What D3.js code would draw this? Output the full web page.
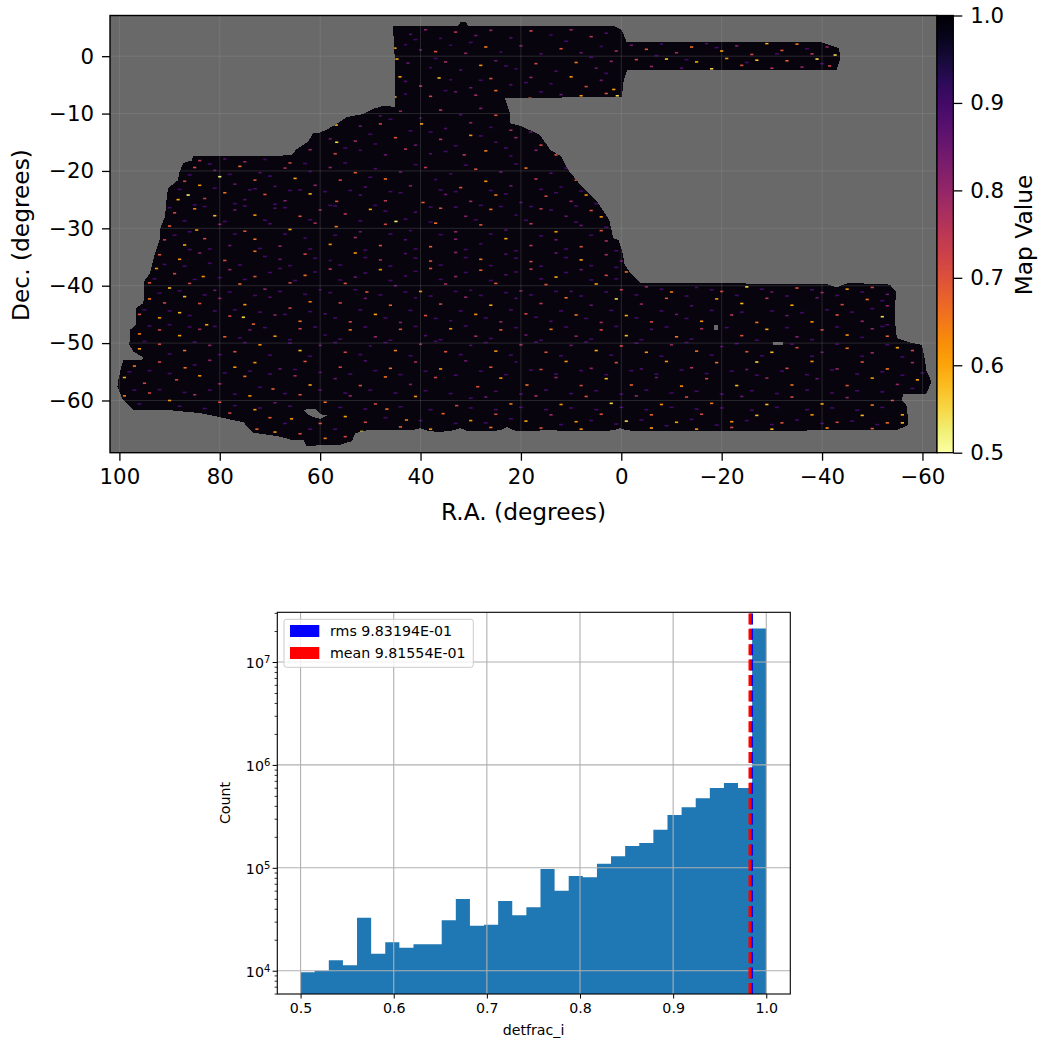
<!DOCTYPE html>
<html><head><meta charset="utf-8">
<script src="https://cdn.jsdelivr.net/npm/d3@7"></script>
<style>html,body{margin:0;background:#fff}svg{display:block;font-family:"DejaVu Sans",sans-serif}</style>
</head><body><svg id="c" width="1040" height="1041"></svg>
<script>
// ---------- map data ----------
const raTicks=[100,80,60,40,20,0,-20,-40,-60];
const decTicks=[0,-10,-20,-30,-40,-50,-60];
const cbarTicks=[1.0,0.9,0.8,0.7,0.6,0.5];
const footprint=[[45.5,5.3],[32.5,5.3],[32,6],[31,6],[30.5,5.3],[1.6,5.3],[-0.1,4.6],[-1.1,2.4],[-39.9,2.4],[-43.4,1.4],[-43.6,-0.6],[-42.9,-2.4],[-1.2,-2.4],[-0.5,-4.1],[-0.1,-7.1],[23.2,-7.3],[22.2,-9.9],[22.2,-11.7],[20.2,-12.1],[16.2,-13.7],[14.2,-16.3],[11.9,-17.5],[10.6,-19.8],[7.9,-22.7],[4.6,-25.6],[2.4,-28.5],[1.6,-31.7],[0.6,-32],[-0.1,-33.7],[-0.7,-36.4],[-2.1,-38.1],[-3.7,-39.5],[-40.9,-39.7],[-42.9,-40.3],[-45.2,-39.5],[-53.5,-39.8],[-54.7,-41],[-54.5,-45.9],[-54.9,-49.1],[-57.5,-49.9],[-59.9,-50.3],[-60.5,-52.9],[-60.8,-54.9],[-61.8,-56.7],[-60.8,-58.8],[-56.2,-58.8],[-55.9,-59.9],[-56.9,-61],[-57.2,-64.2],[-54.9,-65.2],[-38.9,-65.2],[-27,-65.4],[-19.7,-65.3],[-12.4,-65.4],[-3.1,-65.3],[-1,-65.2],[0.3,-64.8],[1.5,-65.2],[5.6,-65.4],[14.2,-65.2],[20.2,-65.3],[21.5,-65.2],[22.8,-64.6],[24,-65.2],[28.8,-65.4],[30.8,-65.3],[32.1,-64.8],[33.5,-65.2],[36.1,-65.5],[38.6,-65.3],[40.1,-64.8],[41.5,-65.2],[50.7,-65.2],[53,-65.7],[53.7,-67.1],[56,-67.7],[62.7,-67.9],[63.4,-66.8],[66,-66.8],[68,-66.3],[73.3,-65.6],[75.3,-63.8],[80.6,-62.8],[83.9,-62.2],[89.9,-61.7],[97.2,-61.6],[99.3,-59.9],[100.4,-57.6],[100.2,-56.4],[99.7,-54.4],[99.2,-53],[95.5,-53],[95.2,-52.5],[97.2,-51.5],[98,-50.3],[97.9,-47.7],[96.7,-46.8],[96.7,-43.9],[95.2,-43],[95.1,-39.3],[93.9,-37.8],[92.9,-34.3],[92,-32],[92,-30.3],[90.9,-27.9],[90.6,-25],[90.3,-23],[88.3,-21.6],[88.1,-20.4],[87.3,-18.6],[85.6,-18.2],[85.3,-17.4],[65.7,-17.3],[64.7,-16.2],[62.4,-14.9],[61.4,-13.4],[60,-13.3],[58.7,-12.8],[56,-11.4],[54.7,-10.6],[51.5,-10.1],[49.5,-9.2],[47.5,-8.7],[45.1,-8.8],[45.1,-1]];
const holes=[
 [[63.4,-61.6],[61,-61.5],[59.5,-62.6],[58.5,-62.6],[60,-63.2],[62,-62.7]],
 [[-30.2,-49.8],[-32.2,-49.8],[-32.2,-50.3],[-30.2,-50.3]],
 [[-18.4,-46.9],[-19.2,-46.9],[-19.2,-47.7],[-18.4,-47.7]]];
// hand-estimated sample of the brighter speckled pixels: [R.A., Dec., value]
const speckles=[
[45.1,1.4,.6],[44.7,-.5,.6],[44.1,-3.6,.6],[45.1,-7.1,.6],[36.3,-3.8,.58],[18.2,-7.3,.68],[42,3.8,.88],[39,4.6,.82],[36,3.1,.9],[33,4.2,.75],[29,3.6,.85],[26,4.5,.8],[22,3.2,.88],[18,4.4,.72],[14,3.7,.9],[10,4.6,.8],[6,3.4,.75],[3,4,.88],
[43,2,.9],[40,1.1,.85],[37,.8,.7],[34,1.9,.9],[31,.5,.8],[27,1.6,.65],[24,.7,.9],[20,1.8,.82],[16,.4,.88],[12,1.3,.7],[8,.6,.85],[4,1.7,.9],[1,.9,.78],
[42.5,-1.2,.85],[38,-2,.9],[35,-1,.78],[32,-2.4,.88],[28,-1.6,.62],[25,-.8,.85],[21,-2.2,.9],[17,-1.3,.72],[13,-2.6,.88],[9,-1.1,.65],[5,-2.1,.85],[2,-.9,.8],
[43,-4.4,.88],[40,-5.2,.75],[34,-4.1,.9],[30,-5.5,.85],[26,-3.9,.7],[22,-5,.88],[18,-3.7,.8],[14,-4.8,.9],[10,-3.6,.62],[7,-5.3,.72],[4,-4.2,.85],[1.5,-5.8,.6],
[43,-6.6,.9],[38,-7,.72],[33,-6.2,.85],[29,-6.8,.78],[25,-6,.66],[12,-6.7,.85],[8,-6.9,.62],[3,-6.5,.7],[.8,-6.9,.55],
[-2,1.9,.85],[-5,1.2,.7],[-8,2.1,.9],[-11,.6,.78],[-14,1.6,.66],[-17,2.2,.88],[-20,.9,.6],[-23,1.8,.82],[-26,.3,.72],[-29,2.2,.58],[-32,1,.7],[-35,2.1,.65],[-38,.4,.75],[-41,1.6,.8],[-42.6,.2,.55],
[-3,-.6,.72],[-6,-1.8,.8],[-9,-.5,.58],[-12,-2.1,.88],[-15,-1,.6],[-18,-2.2,.55],[-21,-.4,.62],[-24,-1.6,.7],[-27,-.7,.58],[-30,-2.1,.76],[-33,-.8,.68],[-36,-1.9,.8],[-39,-.5,.55],[-41.5,-1.7,.72],
[48,-10.4,.88],[44,-9.6,.8],[40,-10.8,.9],[36,-9.4,.75],[32,-10.2,.88],[28,-9.1,.82],[25,-10.3,.7],
[56.8,-12,.58],[52,-12.2,.85],[48,-11.8,.72],[39.8,-11.8,.6],[35,-12.6,.88],[30,-11.6,.8],[26,-12.4,.9],[22,-12.9,.78],[18,-13.2,.85],
[56.7,-15,.55],[58,-14.4,.85],[53,-14.8,.78],[49,-15.3,.9],[45,-14.2,.7],[41,-15.5,.85],[36,-14.5,.75],[30,-13.8,.62],[25,-15,.88],[21,-14.2,.8],[16,-15.5,.72],
[62,-16.3,.8],[57,-17,.72],[52,-16.4,.9],[47,-17.2,.85],[43,-16.2,.76],[38,-17,.88],[31.3,-17.2,.75],[27,-16.5,.65],[22,-17.4,.9],[17,-16.4,.82],[13,-17.2,.7],
[84,-18.2,.75],[79,-17.9,.88],[75,-18.4,.8],[71,-18,.9],[66,-18.6,.72],
[85,-19.4,.7],[81,-19.9,.85],[76,-19.2,.66],[72,-20.3,.88],[67,-19.5,.78],[62,-20.1,.9],[58,-19.4,.8],[53,-20.3,.68],[49,-19.6,.88],[44,-20.2,.85],[39,-19.4,.75],[34,-20.5,.9],[29,-19.7,.7],[24,-20.2,.85],[19,-19.5,.66],[14,-20.4,.88],
[87,-21.8,.72],[84,-22.5,.62],[80,-21,.52],[77,-22.3,.85],[73,-21.6,.7],[69,-22.7,.88],[65,-21.3,.6],[61,-22.5,.8],[56,-21.6,.72],[51,-22.8,.88],[47,-21.4,.66],[42,-22.6,.82],[37,-21.5,.9],[32,-22.9,.7],[27,-21.8,.62],[22,-22.6,.85],[17,-21.4,.75],[12,-22.8,.9],[9,-21.6,.68],
[88.3,-25,.6],[86.3,-24.2,.52],[83,-24.8,.75],[79,-23.8,.66],[75,-25,.88],[71,-24.1,.7],[67,-25.2,.82],[62,-24,.58],[56.7,-25.3,.7],[52,-24.2,.88],[47,-25.2,.75],[39.5,-25.5,.68],[35,-24.1,.85],[30,-25.3,.78],[25,-24.2,.65],[20,-25.5,.88],[15,-24.4,.72],[10,-25.3,.8],[7,-24.2,.62],
[89,-27.3,.72],[85,-26.6,.65],[81,-27.8,.58],[77,-26.8,.85],[73,-27.7,.62],[69,-26.5,.88],[64,-27.9,.7],[60,-26.8,.8],[55,-27.5,.75],[50,-26.7,.6],[44.9,-28.8,.52],[41,-27.2,.88],[36,-26.5,.7],[31,-27.9,.82],[26,-26.7,.66],[21,-27.7,.9],[16,-26.6,.75],[11,-27.9,.85],[6,-26.9,.7],[4,-28,.62],
[90,-29.6,.68],[84.6,-30.3,.62],[80,-29.3,.82],[75,-30.5,.7],[70,-29.2,.88],[66,-30.2,.6],[61,-29.1,.78],[56.8,-29.7,.65],[52,-30.6,.85],[47,-29.3,.72],[42,-30.4,.9],[37,-29.1,.66],[33,-30.6,.8],[28,-29.4,.7],[23,-30.3,.88],[18,-29.2,.75],[13,-30.6,.62],[8,-29.5,.85],[4,-30.4,.7],
[91,-32,.75],[87,-32.9,.6],[83,-31.8,.72],[78,-33,.85],[73,-31.9,.66],[68,-33.1,.8],[63,-31.7,.9],[58,-32.8,.62],[53,-31.6,.78],[48,-33,.7],[43,-32,.88],[38,-33.2,.68],[33,-31.9,.82],[28,-32.7,.9],[23,-31.8,.6],[18,-33,.75],[13,-32,.85],[8,-33.2,.7],[3,-32.2,.78],
[92,-34.6,.7],[88,-35.4,.62],[84,-34.3,.82],[79,-35.6,.7],[73,-34,.66],[68,-35.4,.85],[63,-34.5,.72],[58,-35.6,.9],[53,-34.3,.62],[48,-35.5,.78],[43,-34.4,.88],[38,-35.7,.7],[33,-34.2,.8],[28,-35.4,.65],[23,-34.5,.88],[18,-35.8,.72],[13,-34.3,.85],[8,-35.5,.6],[3,-34.6,.78],[0,-35.7,.85],
[92.6,-37,.62],[89,-37.9,.72],[83.3,-38.4,.62],[78,-37.2,.8],[73,-38.4,.7],[68,-37,.88],[63,-38.2,.66],[58,-37.1,.75],[53,-38.5,.85],[48,-37.2,.62],[43,-38.3,.9],[38,-37,.7],[33,-38.4,.8],[28,-37.3,.68],[23,-38.1,.88],[18,-37.1,.75],[13,-38.5,.6],[8,-37.2,.85],[3,-38.2,.72],[-1,-37.6,.66],
[94,-39.5,.7],[90,-40.4,.58],[86,-39.6,.72],[81,-40.8,.85],[76,-39.7,.66],[71,-40.6,.8],[66,-39.5,.72],[60,-40.7,.9],[55,-39.6,.7],[50.7,-41.1,.7],[45,-40,.85],[40,-41,.62],[35,-39.7,.78],[30,-40.8,.9],[25,-39.6,.68],[20,-40.9,.82],[15,-39.8,.7],[10,-41,.88],[5,-39.7,.6],[0,-40.7,.75],[-5,-40.2,.8],[-10,-41.1,.65],[-15,-40.3,.9],[-20,-41,.72],[-25,-40.2,.55],[-30,-41.1,.85],[-35,-40.4,.7],[-40,-41.2,.8],[-45,-40.6,.62],[-50,-40.3,.72],[-53,-41.5,.85],
[94,-42.3,.65],[91,-43,.72],[87,-41.9,.58],[84,-43.1,.7],[80,-42.2,.82],[75,-43.3,.62],[70,-42,.88],[66,-43.9,.72],[62,-42.8,.65],[56,-43,.72],[51,-42.2,.85],[46,-43.4,.68],[41,-42.1,.9],[36,-43.2,.72],[31,-42,.8],[26,-43.4,.6],[21,-42.2,.88],[16,-43.1,.75],[11,-42.1,.66],[6,-43.4,.85],[1,-42.3,.55],[-4,-43.2,.8],[-9,-42.2,.7],[-14,-43.5,.88],[-19,-42.3,.62],[-24,-43.1,.58],[-29,-42.2,.75],[-34,-43.4,.6],[-39,-42.1,.85],[-44,-43.3,.72],[-49,-42.4,.66],[-53,-43.5,.8],
[96,-45,.7],[92,-45.6,.62],[88,-44.7,.58],[82.6,-46.8,.6],[78,-45.3,.72],[75.3,-45.5,.55],[73.3,-46.7,.68],[69,-45.1,.8],[64,-46.2,.66],[59,-44.9,.88],[54,-46.3,.72],[49,-45,.6],[44,-46.4,.82],[39,-45.2,.7],[34,-46.1,.9],[29,-45,.62],[24,-46.3,.8],[19,-44.9,.72],[14,-46.2,.88],[9,-45.1,.66],[4,-46.4,.78],[-1,-45.2,.6],[-6,-46.3,.72],[-11,-45,.85],[-16,-46.2,.62],[-22,-45.1,.75],[-27,-46.4,.66],[-33,-45.2,.85],[-38,-46.3,.62],[-43,-45.1,.7],[-48,-46.2,.8],[-52,-45.4,.55],
[96,-48.4,.65],[92,-47.7,.72],[88,-48.7,.6],[84,-47.6,.78],[79,-48.9,.68],[74,-47.7,.85],[69,-48.8,.62],[64,-47.5,.72],[59,-48.6,.9],[54,-47.7,.66],[49,-48.9,.8],[44,-47.6,.7],[39,-48.7,.88],[34,-47.5,.62],[29,-48.8,.78],[24,-47.7,.7],[19,-48.6,.85],[14,-47.6,.65],[9,-48.8,.8],[4,-47.7,.72],[-1,-48.7,.58],[-6,-47.6,.88],[-11,-48.9,.65],[-16,-47.5,.78],[-24,-48.7,.7],[-29,-47.6,.6],[-35,-48.9,.82],[-40,-47.7,.72],[-45,-48.6,.62],[-50,-47.5,.8],[-53,-48.8,.68],
[96,-51,.6],[92,-50.2,.72],[87,-51.3,.66],[82,-50.4,.8],[77,-51.5,.7],[72,-50.3,.62],[64,-51.3,.58],[60,-50.4,.85],[55,-51.6,.72],[50,-50.5,.9],[45,-51.3,.65],[40,-50.2,.8],[35,-51.5,.7],[30,-50.4,.88],[25,-51.4,.62],[20,-50.3,.78],[15,-51.6,.7],[10,-50.4,.85],[5,-51.3,.6],[0,-50.5,.72],[-5,-51.6,.62],[-10,-50.3,.8],[-15,-51.4,.66],[-20,-50.6,.88],[-25,-51.5,.7],[-30,-51.6,.58],[-35,-50.8,.72],[-40,-51.6,.85],[-45,-50.9,.66],[-50,-51.7,.78],[-55,-50.8,.6],[-58,-51.3,.72],
[97,-54,.65],[92,-53.3,.72],[86.9,-54.3,.66],[82,-53,.8],[77,-54.2,.62],[73,-53.4,.62],[68,-54.5,.85],[63,-53.2,.7],[56,-54.2,.72],[51,-53.1,.88],[46,-54.4,.66],[41,-53.3,.78],[36,-54.5,.62],[31,-53.1,.85],[26,-54.2,.7],[21,-53.3,.9],[16,-54.6,.72],[11,-53.2,.62],[6,-54.4,.8],[1,-53.4,.7],[-4,-54.5,.88],[-9,-53.2,.62],[-14,-54.3,.76],[-19,-53.4,.66],[-25,-54.6,.85],[-27,-53.3,.55],[-33,-54.4,.72],[-38,-53.2,.62],[-43,-54.5,.8],[-48,-53.3,.7],[-53,-54.5,.65],[-58,-53.4,.78],
[99,-56,.6],[95,-57,.72],[88.6,-56.4,.72],[84,-55.7,.62],[80,-57.1,.8],[75,-55.8,.66],[69.4,-58,.68],[65,-55.7,.78],[62,-57.3,.6],[57,-56.2,.85],[52,-57.4,.7],[47,-55.9,.66],[42,-57.2,.82],[37,-56,.72],[28.6,-57.6,.7],[24,-56.1,.62],[18.8,-57.3,.66],[13,-56,.8],[8,-57.4,.72],[3,-56.2,.58],[-2,-57.3,.68],[-7,-56,.85],[-12,-57.5,.62],[-17,-56.2,.72],[-23,-57.4,.58],[-29,-56.1,.8],[-34,-57.3,.66],[-39,-56.2,.85],[-45,-57.4,.7],[-50,-56.1,.62],[-55,-57.2,.8],[-59,-56.4,.6],
[99,-59.2,.65],[94,-58.7,.72],[90,-60,.62],[85,-59,.78],[80,-60.3,.7],[74,-59.2,.62],[69,-60.4,.85],[64,-59,.7],[59,-60.3,.66],[54,-59.2,.8],[49,-60.6,.72],[46.7,-61.5,.66],[41,-59.3,.62],[32.8,-60.9,.72],[27,-59.4,.85],[22,-60.6,.65],[17,-59.2,.78],[12,-60.7,.62],[7,-59.3,.7],[2,-60.5,.55],[-3,-59.2,.8],[-8,-60.7,.62],[-13,-59.4,.72],[-18,-60.5,.65],[-24,-59.3,.85],[-29,-60.7,.58],[-34,-59.4,.72],[-40,-60.6,.6],[-45,-59.5,.8],[-50,-60.8,.65],[-54,-60,.72],
[78,-62.2,.72],[73,-61.6,.62],[70,-63,.68],[65.7,-63.2,.62],[60,-64,.7],[55,-62.8,.6],[51,-63.8,.72],[42.8,-63.4,.65],[35.5,-62.3,.68],[30,-63.5,.62],[25,-62.4,.72],[19,-63.6,.6],[14,-62.5,.78],[9,-63.7,.62],[4,-62.4,.7],[-1,-63.6,.55],[-6,-62.5,.68],[-11,-63.8,.6],[-16,-62.4,.72],[-22,-63.7,.62],[-27,-62.6,.58],[-32,-63.9,.7],[-38,-62.5,.62],[-43,-63.8,.72],[-48,-62.6,.58],[-53,-63.9,.66],[-56,-62.5,.6],
[72.6,-65,.68],[69,-65.5,.62],[64,-65.8,.7],[59,-66.6,.65],[55,-66.3,.72],[51.7,-65.4,.55],[44,-64.6,.68],[38,-65,.62],[26,-64.7,.66],[16,-64.8,.7],[8,-65,.62],[-6,-64.8,.6],[-15,-65,.62],[-22,-64.7,.72],[-30,-65,.58],[-41,-64.8,.62],[-50,-64.9,.68],[-56,-63.9,.58]
];
// hand-estimated sample of the dim purple flecks, value about 0.9: [R.A., Dec.]
const dimFlecks=[
[41,2.9],[37,-.4],[30,2.4],[23,-1.7],[19,-4.6],[11,2.6],[6,-.2],[3,-3],[35,-6],[28,-4.2],[16,-6.2],[-7,.1],[-13,-.6],[-19,1.5],[-25,-1.1],[-31,.4],[-37,1.3],[-40,-1.3],
[46,-11],[38,-13.2],[33,-15.6],[28,-13.9],[23,-16],[19,-11.9],[42,-13],[50,-13.6],[55,-16],[35,-16.6],
[86,-20.7],[82,-18.8],[78,-20.6],[74,-23.3],[70,-20.9],[66,-23.4],[63,-18.7],[59,-23.6],[55,-18.6],[50,-21.1],[46,-23.6],[41,-18.9],[36,-23.3],[31,-19],[26,-23.4],[21,-18.8],[16,-23.2],[11,-19.5],[8,-23.5],
[88,-23.2],[85,-25.9],[81,-23],[77,-25.7],[73,-23.1],[69,-25.8],[64,-23.3],[58,-26],[54,-23.4],[49,-26],[44,-23.8],[38,-26.3],[33,-23.6],[28,-26],[23,-24],[18,-26.2],[13,-23.8],[9,-26.1],[5,-25.7],
[90,-26.4],[87,-28.7],[83,-26.2],[79,-28.8],[75,-26.1],[71,-28.6],[67,-26.4],[62,-28.5],[57,-26.1],[52,-28.7],[47,-27],[43,-28.4],[38,-28.9],[33,-26.3],[29,-28.5],[24,-26.2],[19,-28.6],[14,-26.8],[9,-28.9],[3,-29.8],
[89,-31.2],[86,-30.6],[82,-33.6],[77,-31],[72,-33.5],[67,-31],[62,-33.6],[57,-31.2],[51,-33.8],[46,-31],[41,-33.6],[36,-31.1],[31,-33.7],[26,-31],[21,-33.9],[16,-31.3],[11,-33.6],[6,-31.2],[1,-33.9],
[91,-36.3],[86,-33.7],[82,-36.1],[76,-36.4],[71,-34.9],[66,-36.5],[61,-35.2],[56,-36.4],[51,-35.1],[46,-36.6],[41,-35.2],[36,-36.4],[31,-35.1],[26,-36.5],[21,-35.2],[16,-36.6],[11,-35.1],[6,-36.5],[1,-36.8],
[93,-38.8],[87,-36.6],[85,-38.9],[80,-38.6],[75,-38.9],[70,-37.7],[65,-39.1],[61,-37.6],[56,-39],[51,-37.8],[46,-39.1],[41,-37.5],[36,-38.9],[31,-37.7],[26,-39.1],[21,-37.6],[16,-38.8],[11,-37.7],[6,-39],[1,-38.8],
[92,-41.3],[88,-40.9],[83,-41.6],[78,-41.1],[73,-41.7],[68,-41],[63,-41.5],[58,-41.2],[53,-40.7],[48,-41.6],[43,-41.1],[38,-41.8],[33,-41],[28,-41.7],[23,-41.2],[18,-41.6],[13,-41],[8,-41.8],[3,-41.1],[-3,-41.6],[-8,-40.6],[-13,-41.8],[-18,-40.7],[-23,-41.7],[-28,-40.6],[-33,-41.8],[-38,-40.7],[-43,-41.7],[-48,-41.1],[-52,-42.6],
[95,-44.2],[90,-44.4],[86,-45.2],[81,-44.4],[77,-44.2],[72,-44.6],[67,-45],[62,-44.5],[57,-45.6],[52,-44.2],[47,-45.6],[42,-44.3],[37,-45.7],[32,-44.4],[27,-45.6],[22,-44.2],[17,-45.5],[12,-44.4],[7,-45.7],[2,-44.3],[-3,-45.6],[-8,-44.4],[-13,-45.7],[-18,-44.3],[-24,-44.6],[-30,-44.4],[-36,-44.7],[-41,-44.2],[-46,-44.6],[-50,-44],[-53,-46.8],
[94,-47],[90,-46.8],[86,-47.2],[81,-47.1],[76,-49.1],[71,-47.3],[66,-49.4],[61,-47.2],[56,-49.3],[51,-47.2],[46,-49.5],[41,-47.1],[36,-49.4],[31,-47],[26,-49.2],[21,-47.3],[16,-49.5],[11,-47.2],[6,-49.3],[1,-47.1],[-4,-49.4],[-9,-47.2],[-14,-49.3],[-21,-47.3],[-27,-49.5],[-33,-47.3],[-38,-49.4],[-43,-47.2],[-48,-49],[-52,-47.1],
[95,-49.7],[90,-51.9],[85,-49.8],[80,-52],[75,-49.9],[70,-52.1],[66,-50],[62,-52.3],[57,-49.9],[52,-52],[47,-49.9],[42,-52.2],[37,-49.7],[32,-52],[27,-49.9],[22,-52.1],[17,-49.8],[12,-52.2],[7,-49.8],[2,-52.1],[-3,-50],[-8,-52.3],[-13,-49.9],[-18,-52.1],[-23,-50.1],[-28,-52.2],[-34,-50.2],[-38,-52.3],[-43,-50.2],[-48,-52.3],[-53,-50.3],[-56,-52.4],
[98,-55],[94,-54.8],[90,-55.3],[85,-53.8],[79,-55.2],[74,-54.9],[70,-55.4],[65,-54.6],[60,-55.1],[54,-55.4],[49,-54.8],[44,-55.5],[39,-54.9],[33,-55.6],[28,-54.9],[23,-55.5],[18,-54.7],[13,-55.4],[8,-54.8],[3,-55.5],[-2,-54.8],[-7,-55.4],[-12,-54.7],[-17,-55.3],[-22,-54.9],[-27,-55.6],[-32,-54.9],[-37,-55.5],[-42,-54.7],[-47,-55.4],[-52,-55],[-56,-55.6],[-60,-55.2],
[97,-58.2],[92,-58.1],[87,-58.6],[82,-58.2],[77,-58.9],[72,-57.7],[67,-58.8],[60,-58.2],[55,-58.7],[50,-58.2],[45,-58.7],[39,-58.3],[34,-58.8],[30,-59.6],[25,-58.4],[20,-58.9],[15,-58.2],[10,-58.8],[5,-58.3],[0,-58.9],[-5,-58.2],[-10,-58.7],[-15,-58.4],[-20,-58.9],[-26,-58.3],[-31,-58.8],[-37,-58.2],[-42,-58.7],[-47,-58.3],[-52,-58.5],[-58,-57.9],
[96,-60.6],[88,-61],[83,-61.4],[77,-60.9],[72,-61.3],[66,-61],[56,-61.2],[51,-61.5],[44,-61.1],[38,-61.6],[30,-61.3],[25,-61.6],[20,-61.2],[15,-61.6],[10,-61.3],[5,-61.6],[0,-61.2],[-5,-61.6],[-10,-61.2],[-15,-61.5],[-20,-61.3],[-26,-61.7],[-31,-61.2],[-37,-61.6],[-42,-61.3],[-47,-61.7],[-52,-61.2],
[75,-64.6],[67,-64],[62,-65],[57,-65],[47,-63],[40,-63.5],[33,-64],[27,-63.9],[22,-63.2],[12,-64.2],[6,-63.5],[1,-64.1],[-4,-63.4],[-9,-64.4],[-14,-63.3],[-19,-64.3],[-25,-63.5],[-30,-64.2],[-35,-63.4],[-40,-64],[-46,-63.6],[-51,-64.2]
];
const dimFleckValue=0.9;
// ---------- histogram data ----------
const binEdgeStart=0.5, binEdgeEnd=1.0;
const counts=[9650,10000,12620,11280,32730,14620,18880,16730,18050,18050,30900,49770,27360,28000,47550,34530,41300,97300,59900,83200,80800,109600,129500,163000,174000,234000,326000,387000,473000,596000,667000,596000,21100000];
const histXTicks=[0.5,0.6,0.7,0.8,0.9,1.0];
const histYMajor=[1e4,1e5,1e6,1e7];
const histYMinor=[6e3,7e3,8e3,9e3,2e4,3e4,4e4,5e4,6e4,7e4,8e4,9e4,2e5,3e5,4e5,5e5,6e5,7e5,8e5,9e5,2e6,3e6,4e6,5e6,6e6,7e6,8e6,9e6,2e7,3e7];
const rmsValue=0.983194, meanValue=0.981554;
const legendItems=[["rms 9.83194E-01","#0000ff"],["mean 9.81554E-01","#ff0000"]];

const svg=d3.select("#c");
// ---------- MAP ----------
const M={l:110,r:937,t:15.5,b:452.7};
const x=d3.scaleLinear().domain([101.87,-62.9]).range([M.l,M.r]);
const y=d3.scaleLinear().domain([7.09,-69.1]).range([M.t,M.b]);
const color=d3.scaleSequential(d3.interpolateInferno).domain([1,0.5]);
const defs=svg.append("defs");
const ring=r=>"M"+r.map(d=>x(d[0])+","+y(d[1])).join("L")+"Z";
const fpPath=ring(footprint)+holes.map(ring).join("");
defs.append("clipPath").attr("id","fp").append("path").attr("d",fpPath).attr("clip-rule","evenodd");
svg.append("rect").attr("x",M.l).attr("y",M.t).attr("width",M.r-M.l).attr("height",M.b-M.t).attr("fill","#696969");
svg.append("path").attr("d",fpPath).attr("fill-rule","evenodd").attr("fill","#07040d").attr("shape-rendering","crispEdges");
const fleckLayer=svg.append("g").attr("clip-path","url(#fp)");
fleckLayer.selectAll("rect.dim").data(dimFlecks).join("rect").attr("class","dim")
 .attr("x",d=>x(d[0])-2).attr("y",d=>y(d[1])-.8).attr("width",4).attr("height",1.6).attr("fill",color(dimFleckValue));
fleckLayer.selectAll("rect.bright").data(speckles).join("rect").attr("class","bright")
 .attr("x",d=>x(d[0])-1.6).attr("y",d=>y(d[1])-.8).attr("width",3.2).attr("height",1.6).attr("fill",d=>color(d[2]));
const mg=svg.append("g").attr("stroke","#b0b0b0").attr("stroke-opacity",.2).attr("stroke-width",1);
raTicks.forEach(t=>mg.append("line").attr("x1",x(t)).attr("x2",x(t)).attr("y1",M.t).attr("y2",M.b));
decTicks.forEach(t=>mg.append("line").attr("y1",y(t)).attr("y2",y(t)).attr("x1",M.l).attr("x2",M.r));
const fmt=d=>String(d).replace("-","\u2212");
function style(g,fs,w){g.select(".domain").remove();g.selectAll(".tick line").attr("stroke","#000").attr("stroke-width",w);g.selectAll(".tick text").attr("fill","#000").attr("font-size",fs).attr("font-family","DejaVu Sans");}
const ax=svg.append("g").attr("transform",`translate(0,${M.b})`).call(d3.axisBottom(x).tickValues(raTicks).tickFormat(fmt).tickSize(8).tickPadding(8));
style(ax,21.3,1.3);
const ay=svg.append("g").attr("transform",`translate(${M.l},0)`).call(d3.axisLeft(y).tickValues(decTicks).tickFormat(fmt).tickSize(8).tickPadding(8));
style(ay,21.3,1.3);
svg.append("rect").attr("x",M.l).attr("y",M.t).attr("width",M.r-M.l).attr("height",M.b-M.t).attr("fill","none").attr("stroke","#000").attr("stroke-width",1.4);
svg.append("text").attr("x",523.5).attr("y",520).attr("text-anchor","middle").attr("font-size",23.3).text("R.A. (degrees)");
svg.append("text").attr("transform","translate(29,235) rotate(-90)").attr("text-anchor","middle").attr("font-size",23.3).text("Dec. (degrees)");
// colorbar
const C={l:937,r:953.3};
const cy=d3.scaleLinear().domain([1,0.5]).range([M.t,M.b]);
const grad=defs.append("linearGradient").attr("id","cb").attr("x1",0).attr("x2",0).attr("y1",0).attr("y2",1);
d3.range(0,1.0001,0.05).forEach(f=>grad.append("stop").attr("offset",f).attr("stop-color",d3.interpolateInferno(f)));
svg.append("rect").attr("x",C.l).attr("y",M.t).attr("width",C.r-C.l).attr("height",M.b-M.t).attr("fill","url(#cb)").attr("stroke","#000").attr("stroke-width",1.3);
const ac=svg.append("g").attr("transform",`translate(${C.r},0)`).call(d3.axisRight(cy).tickValues(cbarTicks).tickFormat(d3.format(".1f")).tickSize(9).tickPadding(8));
style(ac,21.3,1.3);
svg.append("text").attr("transform","translate(1032,235) rotate(-90)").attr("text-anchor","middle").attr("font-size",23.3).text("Map Value");
// ---------- HISTOGRAM ----------
const H={l:277.3,r:790.3,t:612.3,b:994};
const hx=d3.scaleLinear().domain([0.475,1.0258]).range([H.l,H.r]);
const hy=d3.scaleLog().domain([5940,3.04e7]).range([H.b,H.t]);
const bw=(binEdgeEnd-binEdgeStart)/counts.length;
const stepData=counts.concat(counts[counts.length-1]);
svg.append("path").datum(stepData).attr("fill","#1f77b4")
 .attr("d",d3.area().curve(d3.curveStepAfter).x((d,i)=>hx(binEdgeStart+i*bw)).y0(H.b).y1(d=>hy(d)));
const hg=svg.append("g").attr("stroke","#b0b0b0").attr("stroke-width",1.1);
histXTicks.forEach(t=>hg.append("line").attr("x1",hx(t)).attr("x2",hx(t)).attr("y1",H.t).attr("y2",H.b));
histYMajor.forEach(t=>hg.append("line").attr("y1",hy(t)).attr("y2",hy(t)).attr("x1",H.l).attr("x2",H.r));
[[rmsValue,"#0000ff"],[meanValue,"#ff0000"]].forEach(([v,c])=>svg.append("line").attr("x1",hx(v)).attr("x2",hx(v)).attr("y1",H.b).attr("y2",H.t)
 .attr("transform","translate(0.9,0)").attr("stroke",c).attr("stroke-width",3).attr("stroke-dasharray","11 4.4"));
const hax=svg.append("g").attr("transform",`translate(0,${H.b})`).call(d3.axisBottom(hx).tickValues(histXTicks).tickFormat(d3.format(".1f")).tickSize(4.5).tickPadding(4));
style(hax,14.2,1);
const hay=svg.append("g").attr("transform",`translate(${H.l},0)`).call(d3.axisLeft(hy).tickValues(histYMajor).tickFormat(()=>"").tickSize(4.7));
hay.select(".domain").remove();hay.selectAll(".tick line").attr("stroke","#000").attr("stroke-width",1);
hay.selectAll(".tick text").each(function(d){const t=d3.select(this).attr("fill","#000").attr("font-size",14.2).attr("font-family","DejaVu Sans").attr("x",-7).attr("dy","0.42em");
 t.append("tspan").text("10");t.append("tspan").attr("dy","-0.5em").attr("font-size",10).text(Math.round(Math.log10(d)));});
const haym=svg.append("g").attr("transform",`translate(${H.l},0)`).call(d3.axisLeft(hy).tickValues(histYMinor).tickFormat(()=>"").tickSize(2.7));
haym.select(".domain").remove();haym.selectAll(".tick line").attr("stroke","#000").attr("stroke-width",.8);
svg.append("rect").attr("x",H.l).attr("y",H.t).attr("width",H.r-H.l).attr("height",H.b-H.t).attr("fill","none").attr("stroke","#000").attr("stroke-width",1.1);
svg.append("text").attr("x",533.5).attr("y",1035).attr("text-anchor","middle").attr("font-size",14.2).text("detfrac_i");
svg.append("text").attr("transform","translate(230,803) rotate(-90)").attr("text-anchor","middle").attr("font-size",14.2).text("Count");
// legend
const lg=svg.append("g");
lg.append("rect").attr("x",284).attr("y",619.3).attr("width",189.3).attr("height",48).attr("rx",2.5).attr("fill","#fff").attr("fill-opacity",.8).attr("stroke","#ccc").attr("stroke-width",1);
legendItems.forEach(([label,c],i)=>{
 lg.append("rect").attr("x",290).attr("y",625+i*22).attr("width",29.3).attr("height",12).attr("fill",c);
 lg.append("text").attr("x",330).attr("y",636+i*22).attr("font-size",14.2).attr("fill","#000").text(label);
});
</script></body></html>
